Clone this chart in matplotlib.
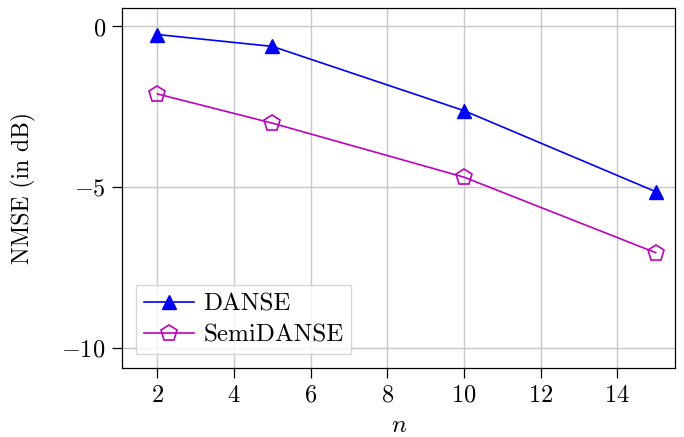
import matplotlib
matplotlib.use("Agg")
import matplotlib.pyplot as plt

# Computer Modern look (pgfplots style)
plt.rcParams['font.family'] = 'serif'
plt.rcParams['font.serif'] = ['cmr10']
plt.rcParams['mathtext.fontset'] = 'cm'
plt.rcParams['axes.formatter.use_mathtext'] = True
plt.rcParams['axes.unicode_minus'] = True

# ── Data ────────────────────────────────────────────────────────
n_vals     = [2, 5, 10, 15]
danse      = [-0.25, -0.62, -2.62, -5.14]
semi_danse = [-2.10, -3.01, -4.69, -7.04]

x_ticks = [2, 4, 6, 8, 10, 12, 14]
y_ticks = [0, -5, -10]

fig = plt.figure(figsize=(6.84, 4.37), dpi=100)
ax = fig.add_axes([0.179, 0.158, 0.808, 0.824])

ax.plot(n_vals, danse, color='#0000ff', lw=1.2, marker='^', ms=10.5,
        mfc='#0000ff', mec='#0000ff', label='DANSE', zorder=3)
ax.plot(n_vals, semi_danse, color='#bf00bf', lw=1.2, marker='p', ms=12,
        mfc='none', mec='#bf00bf', mew=1.2, label='SemiDANSE', zorder=3)

ax.set_xlim(1.085, 15.51)
ax.set_ylim(-10.63, 0.58)
ax.set_xticks(x_ticks)
ax.set_yticks(y_ticks)

ax.grid(True, color='#c8c8c8', lw=1.0)
ax.set_axisbelow(True)
ax.tick_params(direction='out', length=7, width=0.9, labelsize=17.5, pad=5,
               top=False, right=False)
for s in ax.spines.values():
    s.set_linewidth(0.9)

ax.set_xlabel('$n$', fontsize=18, labelpad=6)
ax.set_ylabel('NMSE (in dB)', fontsize=17, labelpad=18)

leg = ax.legend(loc='lower left', fontsize=18, handlelength=2.0,
                borderaxespad=0.55, fancybox=False, framealpha=0.8,
                edgecolor='#cccccc', borderpad=0.3, labelspacing=0.35,
                handletextpad=0.4)
leg.get_frame().set_linewidth(1.0)

fig.savefig('out.png', dpi=100)
